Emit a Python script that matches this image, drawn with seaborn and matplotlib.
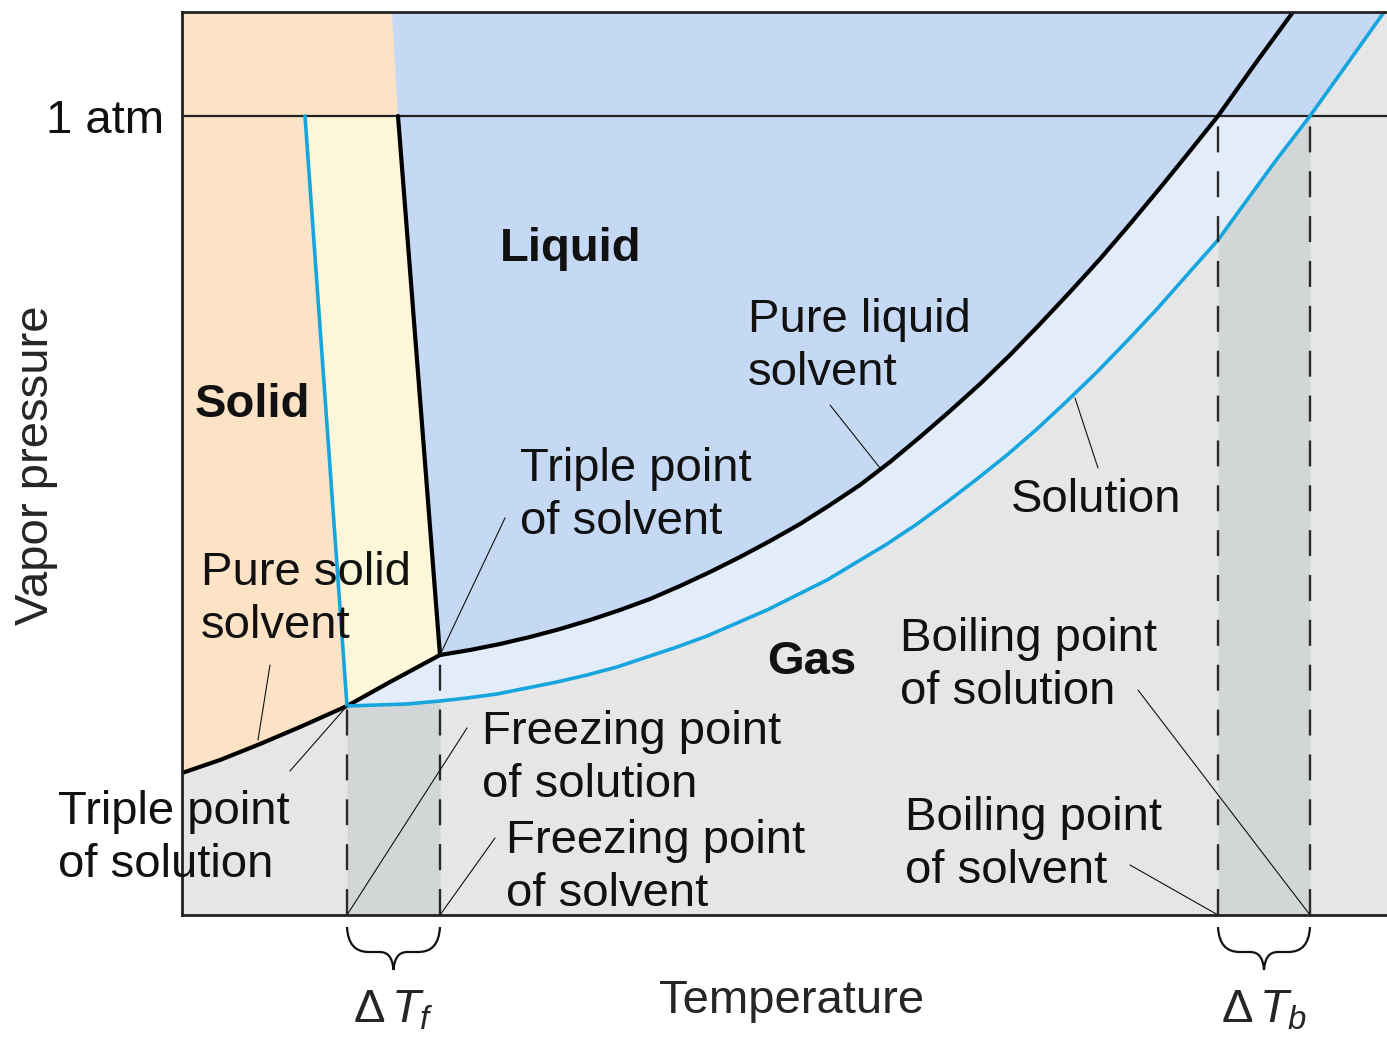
import numpy as np
import pandas as pd
import seaborn as sns
import matplotlib
matplotlib.use('Agg')
import matplotlib.pyplot as plt
from matplotlib.patches import Rectangle, PathPatch
from matplotlib.path import Path

# arbitrary units (temperature left->right, pressure bottom->top)
ATM = 799
X_MAX, Y_MAX = 1205, 903

solid_gas_T = [0, 38, 78, 118, 165, 208, 258]
solid_gas_P = [142, 155, 171, 188, 209, 233, 260]

pure_melt_T = [258, 216, 210]
pure_melt_P = [260, 799, 903]

sol_melt_T = [165, 123]
sol_melt_P = [209, 799]

pure_vap_T = [258, 288, 318, 348, 378, 408, 438, 468, 498, 528, 558, 588, 618, 648, 678,
              708, 738, 768, 798, 828, 858, 888, 918, 948, 978, 1008, 1036, 1073, 1111]
pure_vap_P = [260, 265, 271, 278, 286, 295, 305, 316, 329, 343, 358, 374, 391, 410, 430,
              453, 478, 504, 531, 560, 591, 623, 656, 691, 727, 764, 799, 851, 903]

sol_vap_T = [165, 195, 225, 258, 285, 315, 345, 375, 405, 435, 465, 495, 525, 555, 585, 615, 645, 675,
             705, 735, 765, 795, 825, 855, 885, 915, 945, 975, 1005, 1036, 1065, 1095, 1128, 1163, 1205]
sol_vap_P = [209, 210, 211, 214, 217, 221, 227, 233, 240, 248, 258, 268, 279, 292, 305, 320, 335, 353,
             371, 391, 413, 436, 460, 486, 514, 543, 574, 606, 640, 675, 715, 756, 799, 848, 907]

Tf_solution, Tf_solvent = 165, 258
Tb_solvent, Tb_solution = 1036, 1128

C_SOLID = '#fde3c6'
C_MUSHY = '#fbf7d8'
C_LIQUID = '#c5d9f4'
C_BAND = '#e3edfa'
C_GAS = '#e6e6e6'
C_STRIP = '#d3d6d6'
C_BLUE = '#17a5de'
FS = 34


def d(px, py):
    # picture pixel -> data units
    return px - 182, 915 - py


sns.set_theme(style='white')
plt.rcParams['font.family'] = ['Liberation Sans', 'DejaVu Sans']
plt.rcParams['mathtext.fontset'] = 'custom'
plt.rcParams['mathtext.rm'] = 'Liberation Sans'
plt.rcParams['mathtext.it'] = 'Liberation Sans:italic'

fig = plt.figure(figsize=(13.87, 10.37), dpi=100)
ax = fig.add_axes([182 / 1387, 122 / 1037, 1205 / 1387, 903 / 1037])
ax.set_facecolor(C_GAS)
ax.set_xlim(0, X_MAX)
ax.set_ylim(0, Y_MAX)

sgT, sgP = np.array(solid_gas_T), np.array(solid_gas_P)
pvT, pvP = np.array(pure_vap_T), np.array(pure_vap_P)
svT, svP = np.array(sol_vap_T), np.array(sol_vap_P)

# solid region
solid = np.vstack([
    np.column_stack([sgT[:5], sgP[:5]]),
    [[sol_melt_T[1], sol_melt_P[1]], [pure_melt_T[1], ATM], [pure_melt_T[2], pure_melt_P[2]], [0, Y_MAX]],
])
ax.fill(solid[:, 0], solid[:, 1], color=C_SOLID, lw=0)

# solid solvent between the two melting lines
mushy = np.vstack([
    np.column_stack([sgT[4:], sgP[4:]]),
    [[pure_melt_T[1], pure_melt_P[1]], [sol_melt_T[1], sol_melt_P[1]]],
])
ax.fill(mushy[:, 0], mushy[:, 1], color=C_MUSHY, lw=0)

# pure liquid region
liquid = np.vstack([
    np.column_stack([pure_melt_T, pure_melt_P]),
    np.column_stack([pvT[::-1], pvP[::-1]]),
])
ax.fill(liquid[:, 0], liquid[:, 1], color=C_LIQUID, lw=0)

# solution band between the two vapour curves
band = np.vstack([
    np.column_stack([sgT[4:], sgP[4:]]),
    np.column_stack([pvT[1:], pvP[1:]]),
    [[X_MAX, 907]],
    np.column_stack([svT[::-1], svP[::-1]]),
])
ax.fill(band[:, 0], band[:, 1], color=C_BAND, lw=0)
top_band = ax.fill(band[:, 0], band[:, 1], color=C_LIQUID, lw=0)[0]
top_band.set_clip_path(Rectangle((0, ATM), X_MAX, Y_MAX - ATM, transform=ax.transData))

# darker strips for the freezing / boiling point shifts
for lo, hi in [(Tf_solution, Tf_solvent), (Tb_solvent, Tb_solution)]:
    m = (svT >= lo) & (svT <= hi)
    ax.fill_between(svT[m], 0, svP[m], color=C_STRIP, lw=0)

ax.axhline(ATM, color='#222222', lw=1.6)

curves = [
    (solid_gas_T, solid_gas_P, 'black', 3.0),
    (pure_melt_T[:2], pure_melt_P[:2], 'black', 3.0),
    (pure_vap_T, pure_vap_P, 'black', 3.0),
    (sol_melt_T, sol_melt_P, C_BLUE, 2.6),
    (sol_vap_T, sol_vap_P, C_BLUE, 2.6),
]
for T, P, c, lw in curves:
    df = pd.DataFrame({'T': T, 'P': P})
    sns.lineplot(data=df, x='T', y='P', sort=False, estimator=None, color=c, lw=lw, ax=ax)
ax.set_xlabel('')
ax.set_ylabel('')

# dashed verticals
for T, P in [(Tf_solution, 209), (Tf_solvent, 260), (Tb_solvent, ATM), (Tb_solution, ATM)]:
    ax.plot([T, T], [0, P], color='#2a2a2a', lw=1.7, ls=(0, (11, 8)))

# leader lines
leaders = [
    ((270, 665), (258, 740)),
    ((290, 771), (347, 706)),
    ((505, 518), (440, 655)),
    ((467, 728), (347, 915)),
    ((495, 838), (440, 915)),
    ((830, 405), (880, 468)),
    ((1098, 468), (1075, 398)),
    ((1138, 690), (1310, 915)),
    ((1130, 865), (1218, 915)),
]
for a, b in leaders:
    (x0, y0), (x1, y1) = d(*a), d(*b)
    ax.plot([x0, x1], [y0, y1], color='#111111', lw=0.8)

labels = [
    (['Pure liquid', 'solvent'], 748, 332),
    (['Solution'], 1011, 512),
    (['Triple point', 'of solvent'], 520, 481),
    (['Pure solid', 'solvent'], 201, 585),
    (['Triple point', 'of solution'], 58, 824),
    (['Freezing point', 'of solution'], 482, 744),
    (['Freezing point', 'of solvent'], 506, 853),
    (['Boiling point', 'of solution'], 900, 651),
    (['Boiling point', 'of solvent'], 905, 830),
]
for lines, px, py in labels:
    for i, s in enumerate(lines):
        ax.text(*d(px, py + 53 * i), s, fontsize=FS, ha='left', va='baseline', color='#111111')

for s, px, py in [('Liquid', 500, 261), ('Solid', 195, 417), ('Gas', 767, 674)]:
    ax.text(*d(px, py), s, fontsize=FS, fontweight='bold', ha='left', va='baseline', color='#111111')

ax.set_xticks([])
ax.set_yticks([ATM])
ax.set_yticklabels(['1 atm'], fontsize=FS, color='#111111')
ax.tick_params(axis='y', length=0, pad=13)

for side in ['left', 'top', 'bottom']:
    ax.spines[side].set_color('#222222')
    ax.spines[side].set_linewidth(2)
ax.spines['right'].set_visible(False)

ax.text(*d(792, 1013), 'Temperature', fontsize=FS, ha='center', va='baseline', clip_on=False)
ax.text(*d(36, 465), 'Vapor pressure', fontsize=FS, rotation=90, ha='center', va='center', clip_on=False)


def brace(x0, x1):
    xm = (x0 + x1) / 2
    yt, ym, yb = -12, -37, -55
    verts = [(x0, yt), (x0 + 1, ym + 8), (x0 + 8, ym), (x0 + 22, ym),
             (xm - 14, ym),
             (xm - 5, ym), (xm - 1, ym - 6), (xm, yb),
             (xm + 1, ym - 6), (xm + 5, ym), (xm + 14, ym),
             (x1 - 22, ym),
             (x1 - 8, ym), (x1 - 1, ym + 8), (x1, yt)]
    codes = [Path.MOVETO, Path.CURVE4, Path.CURVE4, Path.CURVE4,
             Path.LINETO,
             Path.CURVE4, Path.CURVE4, Path.CURVE4,
             Path.CURVE4, Path.CURVE4, Path.CURVE4,
             Path.LINETO,
             Path.CURVE4, Path.CURVE4, Path.CURVE4]
    ax.add_patch(PathPatch(Path(verts, codes), fill=False, lw=1.6, ec='#111111', clip_on=False))


brace(Tf_solution, Tf_solvent)
brace(Tb_solvent, Tb_solution)
ax.text((Tf_solution + Tf_solvent) / 2, -107, r'$\Delta\,T_f$', fontsize=FS, ha='center', va='baseline', clip_on=False)
ax.text((Tb_solvent + Tb_solution) / 2, -107, r'$\Delta\,T_b$', fontsize=FS, ha='center', va='baseline', clip_on=False)

fig.savefig('out.png', dpi=100)
